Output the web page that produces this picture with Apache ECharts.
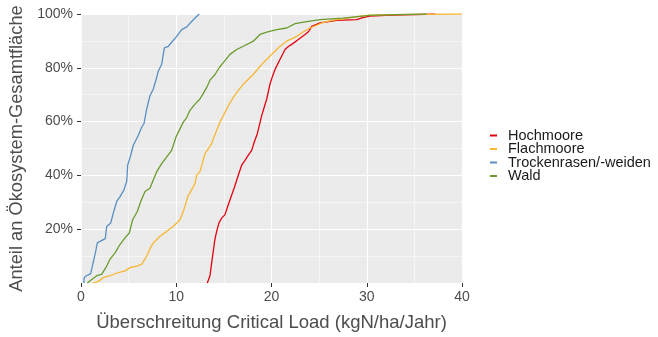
<!DOCTYPE html>
<html>
<head>
<meta charset="utf-8">
<script src="https://cdn.jsdelivr.net/npm/echarts@6/dist/echarts.min.js"></script>
<style>html,body{margin:0;padding:0;background:#fff}#c{width:658px;height:337px}</style>
</head>
<body>
<div id="c"></div>
<script>
const seriesNames = ['Hochmoore', 'Flachmoore', 'Trockenrasen/-weiden', 'Wald'];
const xTicks = [0, 10, 20, 30, 40];
const yTicks = [20, 40, 60, 80, 100];

// [Überschreitung (kgN/ha/Jahr), Anteil (%)]
const hochmoore = [[13.26,0],[13.3,0.2],[13.54,2.7],[13.7,7],[13.89,11.9],[14.05,16],[14.24,19.2],[14.5,22.5],[14.77,24.1],[15.12,25.4],[15.45,29],[15.82,32.7],[16.1,35.5],[16.35,38.3],[16.6,41],[16.87,43.8],[17.2,45.5],[17.57,47.5],[17.92,49.3],[18.2,52.5],[18.51,55.5],[18.75,59],[18.97,62.2],[19.25,65.5],[19.5,68.4],[19.84,73.9],[20.1,76.8],[20.37,79.4],[20.89,83.1],[21.42,86.8],[21.8,88],[22.12,88.7],[22.82,90.5],[23.52,92.4],[23.9,93.5],[24.22,95.4],[25.1,96.7],[26.0,97.2],[26.85,97.6],[28.95,97.9],[29.5,98.6],[30.3,99.2],[32,99.5],[34,99.7],[37.2,100]];
const flachmoore = [[1.23,0],[1.82,0.6],[2.34,2],[3.04,2.7],[3.92,3.9],[4.62,4.5],[5.14,5.7],[5.85,6.3],[6.37,6.9],[6.9,10],[7.25,12.8],[7.59,14.9],[8.29,17.4],[9.0,19.2],[9.69,21.1],[10.05,22.3],[10.39,23.5],[10.74,26.6],[10.92,27.2],[11.27,32.7],[11.44,33.5],[11.97,37],[12.14,40.1],[12.49,41.4],[13.02,48.1],[13.72,51.8],[13.89,53.6],[14.24,56.7],[14.59,59.8],[14.94,62.2],[15.45,65.8],[15.99,69],[16.5,71.5],[17.04,73.9],[18.09,77.6],[19.14,81.9],[20.19,85.6],[20.9,88],[21.6,89.9],[22.65,91.7],[23.3,93.3],[24.06,94.8],[25.44,96.9],[26.5,97.7],[27.5,98.2],[29,99],[30.3,99.6],[33,99.8],[36,99.9],[40,100]];
const trockenrasen = [[0.31,0],[0.31,1.4],[0.42,2.4],[1.02,3.5],[1.23,6.9],[1.5,11],[1.71,14.9],[2.0,15.5],[2.55,16.5],[2.7,21],[3.12,22.3],[3.39,26],[3.75,30.3],[4.1,32.1],[4.51,34.6],[4.8,37.9],[4.9,43.8],[5.22,47.5],[5.49,51.2],[6.02,54.9],[6.37,57.9],[6.61,59.2],[6.9,64.7],[7.24,69.6],[7.59,72.1],[7.84,75.1],[8.12,78.8],[8.47,81.3],[8.75,87.4],[9.17,88],[9.52,89.5],[10.05,91.7],[10.57,94.2],[11.1,95.2],[11.62,97.2],[12.0,98.6],[12.42,100]];
const wald = [[0.66,0],[0.66,0.2],[1.2,1.5],[1.65,2.7],[2.17,3.2],[2.7,6.3],[3.04,8.8],[3.57,11.2],[4.09,14.3],[4.62,16.8],[5.07,18.6],[5.42,23.5],[5.91,26.6],[6.27,30.3],[6.72,34],[7.24,35.2],[7.59,38.3],[7.95,41.4],[8.47,44.4],[9.0,46.9],[9.52,49.3],[9.97,54.3],[10.39,57.3],[10.74,59.8],[11.1,61.5],[11.44,64.2],[11.97,66.5],[12.49,68.4],[12.84,70.5],[13.2,72.7],[13.54,75.4],[14.07,77.5],[14.52,80.1],[14.94,81.9],[15.64,85],[16.35,86.8],[17.04,88],[18.09,89.9],[18.79,92.4],[19.5,93.3],[20.55,94.2],[21.6,94.8],[22.47,96.4],[23.7,97.2],[25.1,97.9],[27.5,98.5],[30.3,99.5],[33,99.8],[36.3,100]];

const colors = ['#e3000f', '#f7b733', '#5a8fc4', '#6b9a2f'];
const datasets = [hochmoore, flachmoore, trockenrasen, wald];

const chart = echarts.init(document.getElementById('c'), null, {renderer: 'canvas'});
chart.setOption({
  animation: false,
  backgroundColor: '#ffffff',
  textStyle: {fontFamily: 'Liberation Sans, Arial, sans-serif'},
  grid: {left: 81, right: 196, top: 14, bottom: 51, show: true, backgroundColor: '#ebebeb', borderWidth: 0},
  legend: {
    orient: 'vertical', left: 490, top: 128, padding: 0,
    data: seriesNames.map((n, i) => ({name: n, icon: 'rect', itemStyle: {color: colors[i]}})),
    itemWidth: 7, itemHeight: 2, itemGap: -1.5,
    textStyle: {fontSize: 14.5, color: '#1a1a1a', lineHeight: 13.5, padding: [0, 0, 0, 6]}
  },
  xAxis: {
    type: 'value', min: 0, max: 40, interval: 10,
    name: 'Überschreitung Critical Load (kgN/ha/Jahr)', nameLocation: 'middle', nameGap: 30,
    nameTextStyle: {fontSize: 18.5, color: '#4d4d4d'},
    axisLine: {show: false},
    axisTick: {show: true, length: 4, lineStyle: {color: '#333333'}, customValues: xTicks},
    axisLabel: {fontSize: 14, color: '#4d4d4d', margin: 7, customValues: xTicks},
    splitLine: {show: true, lineStyle: {color: '#ffffff', width: 1.1}},
    minorTick: {show: false, splitNumber: 2},
    minorSplitLine: {show: true, lineStyle: {color: '#ffffff', width: 0.5}}
  },
  yAxis: {
    type: 'value', min: 0, max: 100, interval: 20,
    name: 'Anteil an Ökosystem-Gesamtfläche', nameLocation: 'middle', nameGap: 51,
    nameTextStyle: {fontSize: 18.3, color: '#4d4d4d'},
    axisLine: {show: false},
    axisTick: {show: true, length: 4, lineStyle: {color: '#333333'}, customValues: yTicks},
    axisLabel: {fontSize: 14, color: '#4d4d4d', margin: 8, customValues: yTicks, formatter: v => v + '%'},
    splitLine: {show: true, lineStyle: {color: '#ffffff', width: 1.1}},
    minorTick: {show: false, splitNumber: 2},
    minorSplitLine: {show: true, lineStyle: {color: '#ffffff', width: 0.5}}
  },
  series: seriesNames.map((n, i) => ({
    name: n, type: 'line', data: datasets[i], showSymbol: false, symbol: 'none',
    lineStyle: {color: colors[i], width: 1.3}, itemStyle: {color: colors[i]}, clip: true
  }))
});
</script>
</body>
</html>
